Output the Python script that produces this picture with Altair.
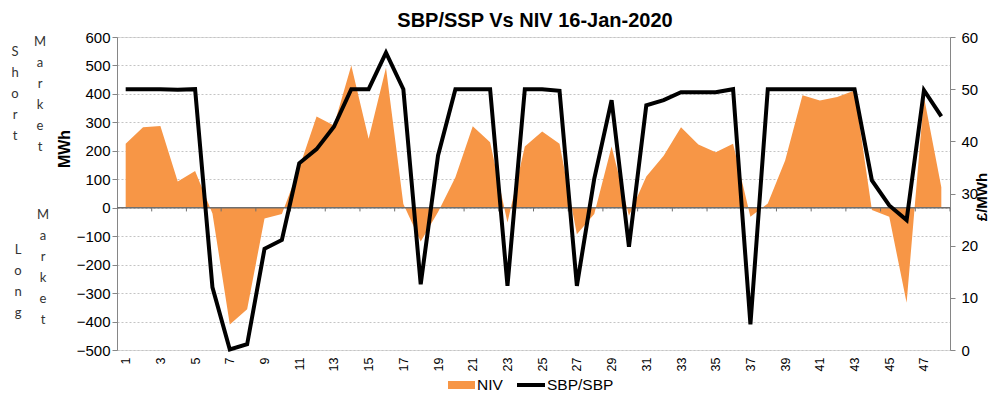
import altair as alt
import pandas as pd

# ---- data ----
periods = list(range(1, 49))
niv = [225, 283, 287, 92, 129, -20, -410, -357, -38, -22, 140, 321,
       289, 500, 242, 492, 13, -119, -15, 107, 286, 230, -52, 215,
       268, 225, -93, -22, 215, -28, 110, 183, 283, 222, 195, 225,
       -32, 15, 166, 395, 377, 389, 412, -8, -32, -334, 389, 72]
sbp = [50, 50, 50, 49.9, 50, 12, 0.1, 1.1, 19.4, 21.1, 35.8, 38.5,
       42.8, 50, 50, 57, 50, 12.6, 37.3, 50, 50, 50, 12.3, 50,
       50, 49.7, 12.3, 32.8, 47.9, 19.8, 46.9, 47.9, 49.4, 49.4, 49.4, 50,
       4.9, 50, 50, 50, 50, 50, 50, 32.5, 27.7, 24.9, 49.8, 44.8]
x_label_values = list(range(1, 48, 2))
mwh_ticks = list(range(-500, 601, 100))
price_ticks = list(range(0, 61, 10))
zero_tick_pos = [p + 0.5 for p in range(2, 49, 2)]

title_text = "SBP/SSP Vs NIV 16-Jan-2020"
ORANGE = "#F79646"
AXIS_GREY = "#868686"
FONT = "Liberation Sans"

df = pd.DataFrame({"period": periods, "NIV": niv, "SBP": sbp})
ticks_df = pd.DataFrame({"pos": zero_tick_pos, "y0": [0] * len(zero_tick_pos),
                         "y1": [-13] * len(zero_tick_pos)})
zero_df = pd.DataFrame({"z": [0]})
one = pd.DataFrame({"a": [0]})

x_scale = alt.Scale(domain=[0.5, 48.5], nice=False, zero=False)
x_axis = alt.Axis(values=x_label_values, labelAngle=270, format="d", grid=False,
                  domain=False, ticks=False, tickSize=0, labelPadding=7,
                  labelFontSize=12.5, labelColor="black", title=None, labelFont=FONT)
yl_scale = alt.Scale(domain=[-500, 600], nice=False, zero=False)
yl_axis = alt.Axis(values=mwh_ticks, grid=True, gridDash=[2, 2], gridColor="#c4c4c4",
                   domainColor=AXIS_GREY, tickColor=AXIS_GREY, tickSize=5,
                   labelFontSize=15, labelColor="black", labelPadding=2,
                   labelFont=FONT, title=None)
yr_scale = alt.Scale(domain=[0, 60], nice=False, zero=False)
yr_axis = alt.Axis(orient="right", values=price_ticks, grid=False,
                   domainColor=AXIS_GREY, tickColor=AXIS_GREY, tickSize=5,
                   labelFontSize=15, labelColor="black", labelPadding=6,
                   labelFont=FONT, title=None)

area = alt.Chart(df).mark_area(color=ORANGE, opacity=1).encode(
    x=alt.X("period:Q", scale=x_scale, axis=x_axis),
    y=alt.Y("NIV:Q", scale=yl_scale, axis=yl_axis),
    y2=alt.datum(0),
)
zero_rule = alt.Chart(zero_df).mark_rule(color="#6f6f6f", strokeWidth=1.5).encode(
    y=alt.Y("z:Q", scale=yl_scale, axis=yl_axis),
)
zero_ticks = alt.Chart(ticks_df).mark_rule(color="#6f6f6f", strokeWidth=1).encode(
    x=alt.X("pos:Q", scale=x_scale, axis=x_axis),
    y=alt.Y("y0:Q", scale=yl_scale, axis=yl_axis),
    y2="y1:Q",
)
left = alt.layer(area, zero_rule, zero_ticks)

line = alt.Chart(df).mark_line(color="black", strokeWidth=4).encode(
    x=alt.X("period:Q", scale=x_scale, axis=x_axis),
    y=alt.Y("SBP:Q", scale=yr_scale, axis=yr_axis),
)


def txt(text, x, y, **kw):
    return alt.Chart(one).mark_text(**kw).encode(
        x=alt.value(x), y=alt.value(y), text=alt.value(text))


letter_kw = dict(lineBreak="\n", lineHeight=21, baseline="top", align="center",
                 font="Lato", fontSize=13, color="#333333")
annotations = [
    txt(title_text, 418, -10.5, font=FONT, fontSize=20, fontWeight="bold",
        align="center", baseline="alphabetic", color="black"),
    txt("S\nh\no\nr\nt", -102, 9, **letter_kw),
    txt("M\na\nr\nk\ne\nt", -77, -1, **letter_kw),
    txt("L\no\nn\ng", -99, 207, **letter_kw),
    txt("M\na\nr\nk\ne\nt", -74, 172, **letter_kw),
    txt("MWh", -52, 112, font=FONT, fontSize=16, fontWeight="bold", angle=270,
        align="center", baseline="middle", color="black"),
    txt("£/MWh", 865, 160, font=FONT, fontSize=15, fontWeight="bold", angle=270,
        align="center", baseline="middle", color="black"),
    # legend
    alt.Chart(one).mark_rect(color=ORANGE).encode(
        x=alt.value(331), x2=alt.value(358), y=alt.value(344), y2=alt.value(352)),
    txt("NIV", 360, 353, font=FONT, fontSize=15.5, align="left",
        baseline="alphabetic", color="black"),
    alt.Chart(one).mark_rule(color="black", strokeWidth=4).encode(
        x=alt.value(400), x2=alt.value(428), y=alt.value(348)),
    txt("SBP/SBP", 430, 353, font=FONT, fontSize=15.5, align="left",
        baseline="alphabetic", color="black"),
]

chart = alt.layer(left, line, *annotations).resolve_scale(y="independent").properties(
    width=833, height=313,
    autosize=alt.AutoSizeParams(type="none"),
    padding={"left": 109, "top": 29, "right": 40, "bottom": 44},
).configure_view(stroke=None).configure(background="white")

chart.save("out.html", embed_options={"renderer": "svg", "actions": False})
